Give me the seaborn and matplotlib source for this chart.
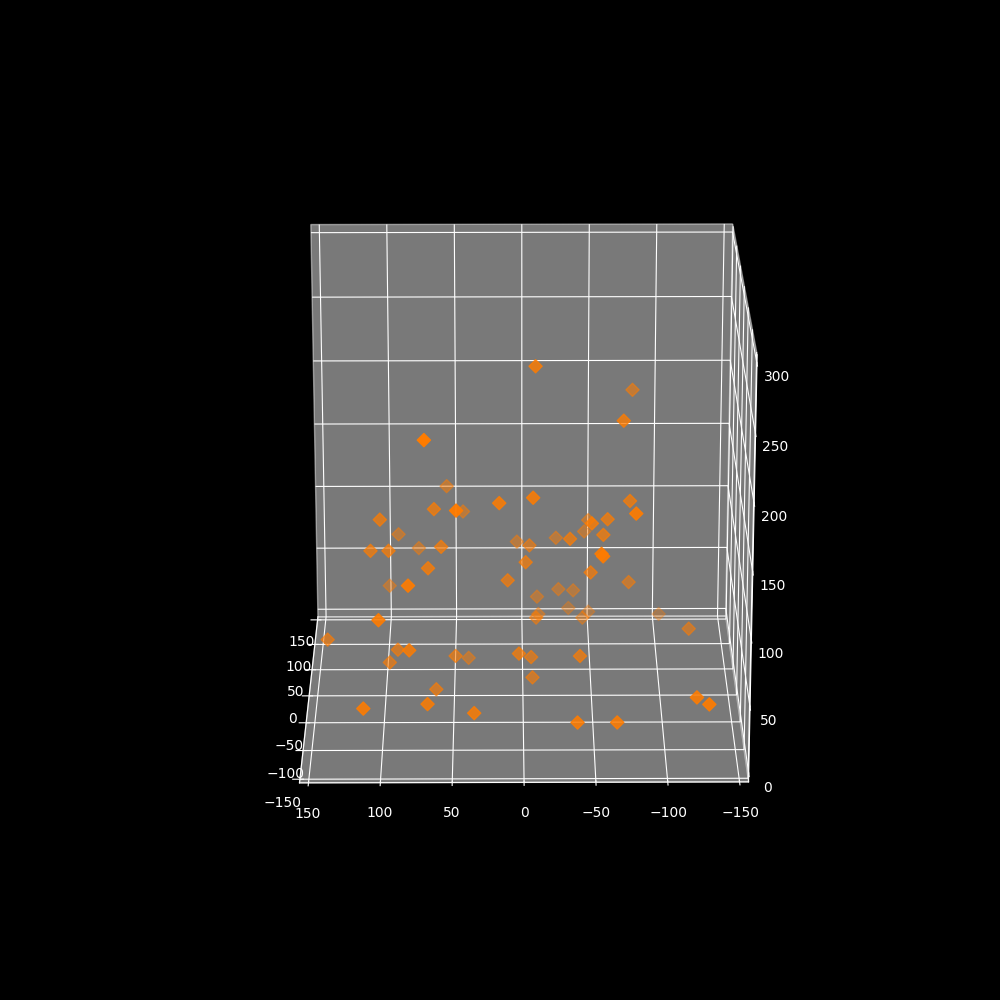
import numpy as np
import pandas as pd
import matplotlib
matplotlib.use('Agg')
import matplotlib.pyplot as plt
import seaborn as sns

x_vals = [-9, -81, -72, 69, 56, 64, 47, 44, 17, -7, -77, -79, -61, -49, -49, -58, -46, -34, -25, 4, -5,
          103, 92, 110, 97, 77, 59, 68, 99, 81, -2, 11, -49, -56, -55, -78, -11, -27, -38, -12, -10,
          -35, -50, -45, -104, -122, 102, 142, 91, 81, 97, 49, 40, 3, -6, -41, -7, 63, 113, 68, 35,
          -38, -66, -122, -130]
y_vals = [0, 90, 0, -90, 90, 0, -90, 90, -45, -45, 0, -75, 0, -30, 90, 0, 90, 0, 90, 90, 45,
          0, 90, 0, 0, 90, 0, -30, 90, -90, 0, 0, 0, -75, -70, 45, 90, 90, 90, 90, 45,
          120, 120, 90, 135, 30, -90, 0, 0, -75, 0, 0, 55, -30, 0, -30, 0, -15, -105, -90, -90,
          -105, -105, -105, -120]
z_vals = [247, 199, 206, 223, 124, 139, 171, 104, 160, 164, 145, 163, 131, 139, 97, 119, 88, 116, 83, 80, 94,
          131, 86, 107, 107, 75, 110, 105, 45, 115, 98, 84, 90, 131, 131, 65, 36, 42, 41, 22, 37,
          15, 12, 19, 4, 34, 89, 38, 30, 60, 20, 25, 1, 39, 24, 37, 8, 5, 28, 25, 18,
          17, 17, 36, 37]

df = pd.DataFrame({'x': x_vals, 'y': y_vals, 'z': z_vals})

plt.style.use('dark_background')
plt.rcParams['axes3d.automargin'] = True
colors = sns.color_palette('bright')

fig = plt.figure(figsize=(10, 10), dpi=100)
ax = fig.add_subplot(projection='3d')
ax.scatter(df.x, df.y, df.z, color=colors[1], marker='D', s=45)
ax.set_xlim(150, -150)
ax.set_ylim(-150, 150)
ax.set_zlim(0, 300)
ax.set_box_aspect((1, 1, 1), zoom=0.95)
ax.view_init(elev=20, azim=-90.3)
ax.zaxis.set_ticks_position('lower')

for axis in [ax.xaxis, ax.yaxis, ax.zaxis]:
    axis.set_pane_color((0.95, 0.95, 0.95, 0.5))

plt.savefig('out.png', dpi=100)
